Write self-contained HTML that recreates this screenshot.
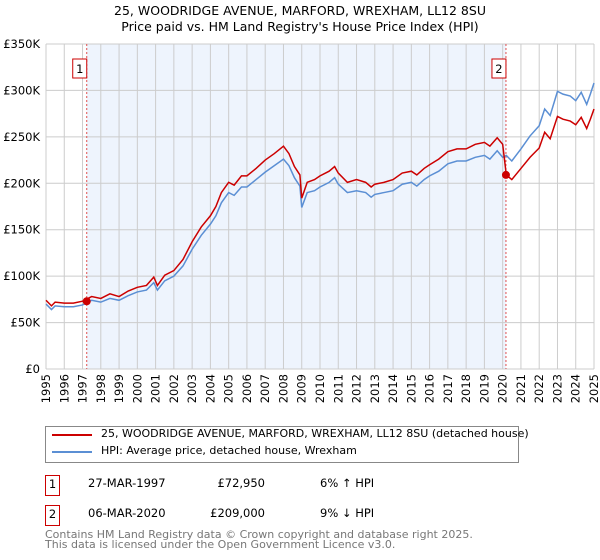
<!DOCTYPE html>
<html><head><meta charset="utf-8"><style>
body{margin:0;background:#fff;font-family:"DejaVu Sans","Liberation Sans",sans-serif;}
#wrap{position:relative;width:600px;height:560px;overflow:hidden}
.t{position:absolute;font-size:11.5px;color:#000;white-space:nowrap}
</style></head><body><div id="wrap">
<div class="t" style="left:0;width:600px;text-align:center;top:3px;font-size:12.5px;line-height:16px">25, WOODRIDGE AVENUE, MARFORD, WREXHAM, LL12 8SU<br>Price paid vs. HM Land Registry's House Price Index (HPI)</div>
<svg id="c" width="600" height="420" style="position:absolute;left:0;top:0"></svg>
<div style="position:absolute;left:45px;top:426px;width:472px;height:35px;border:1px solid #888;">
 <div><div style="position:absolute;left:6px;top:7px;width:40px;height:2px;background:#cc0000"></div><div class="t" style="left:55px;top:0px;font-size:11px">25, WOODRIDGE AVENUE, MARFORD, WREXHAM, LL12 8SU (detached house)</div></div>
 <div><div style="position:absolute;left:6px;top:24px;width:40px;height:2px;background:#5b8fd4"></div><div class="t" style="left:55px;top:17px;font-size:11px">HPI: Average price, detached house, Wrexham</div></div>
</div>
<div>
<div class="t" style="left:45px;top:475px;width:13px;height:19px;border:1px solid #cc0000;text-align:center;line-height:17px">1</div>
<div class="t" style="left:88px;top:476px">27-MAR-1997</div>
<div class="t" style="left:200px;top:476px;width:65px;text-align:right">£72,950</div>
<div class="t" style="left:320px;top:476px">6% ↑ HPI</div></div>
<div>
<div class="t" style="left:45px;top:505px;width:13px;height:19px;border:1px solid #cc0000;text-align:center;line-height:17px">2</div>
<div class="t" style="left:88px;top:506px">06-MAR-2020</div>
<div class="t" style="left:200px;top:506px;width:65px;text-align:right">£209,000</div>
<div class="t" style="left:320px;top:506px">9% ↓ HPI</div></div>
<div class="t" style="left:45px;top:530px;color:#777;font-size:11px;line-height:10px">Contains HM Land Registry data © Crown copyright and database right 2025.<br>This data is licensed under the Open Government Licence v3.0.</div>
</div>
<script>
const years=[1995,1995.3,1995.5,1996,1996.5,1997,1997.5,1998,1998.5,1999,1999.5,2000,2000.5,2000.9,2001.1,2001.5,2002,2002.5,2003,2003.5,2004,2004.3,2004.6,2005,2005.3,2005.7,2006,2006.5,2007,2007.5,2008,2008.3,2008.6,2008.9,2009,2009.3,2009.7,2010,2010.5,2010.8,2011,2011.5,2012,2012.5,2012.8,2013,2013.5,2014,2014.5,2015,2015.3,2015.7,2016,2016.5,2017,2017.5,2018,2018.5,2019,2019.3,2019.7,2020,2020.2,2020.5,2021,2021.5,2022,2022.3,2022.6,2023,2023.3,2023.7,2024,2024.3,2024.6,2024.8,2025];
const hpi=[70,64,68,67,67,69,74,72,76,74,79,83,85,93,85,95,100,111,129,144,156,165,179,190,187,196,196,204,212,219,226,219,206,197,174,190,192,196,201,206,199,190,192,190,185,188,190,192,199,201,197,204,208,213,221,224,224,228,230,226,235,228,230,224,237,251,262,280,273,299,296,294,289,298,285,296,308];
const price=[74,68,72,71,71,73,78,76,81,78,84,88,90,99,90,101,106,118,137,153,165,175,190,201,198,208,208,216,225,232,240,232,218,209,184,201,204,208,213,218,211,201,204,201,196,199,201,204,211,213,209,216,220,226,234,237,237,242,244,240,249,242,209,204,216,228,238,255,248,272,269,267,263,271,259,269,280];
const yTicks=[0,50,100,150,200,250,300,350];
const yTickLabels=["£0","£50K","£100K","£150K","£200K","£250K","£300K","£350K"];
const xTicks=[1995,1996,1997,1998,1999,2000,2001,2002,2003,2004,2005,2006,2007,2008,2009,2010,2011,2012,2013,2014,2015,2016,2017,2018,2019,2020,2021,2022,2023,2024,2025];
const sales=[{n:"1",t:1997.23,v:72.95},{n:"2",t:2020.18,v:209}];
const L=46,R=594,T=44,B=369;
const X=t=>L+(t-1995)/30*(R-L);
const Y=v=>B-v/350*(B-T);
const FF='DejaVu Sans, Liberation Sans, sans-serif';
const svg=document.getElementById('c');const NS="http://www.w3.org/2000/svg";
function mk(tag,a,name){const e=document.createElementNS(NS,tag);for(const k in a)e.setAttribute(k,a[k]);


svg.appendChild(e);return e;}
mk('rect',{x:L,y:T,width:R-L,height:B-T,fill:'#fff'},'plot-area');
mk('rect',{x:X(sales[0].t),y:T,width:X(sales[1].t)-X(sales[0].t),height:B-T,fill:'#eef4fd'},'ownership-shading');
xTicks.forEach(t=>{mk('line',{x1:X(t),x2:X(t),y1:T,y2:B,stroke:'#ccc','stroke-width':1},'x-gridline');
const x=X(t)+4,y=374;
const tx=mk('text',{x:x,y:y,'text-anchor':'end','font-size':11.5,'font-family':FF,transform:'rotate(-90 '+x+' '+y+')'},'x-tick-label');tx.textContent=t;});
yTicks.forEach((v,i)=>{mk('line',{x1:L,x2:R,y1:Y(v),y2:Y(v),stroke:'#ccc','stroke-width':1},'y-gridline');
const tx=mk('text',{x:40,y:Y(v)+4,'text-anchor':'end','font-size':11.5,'font-family':FF},'y-tick-label');tx.textContent=yTickLabels[i];});
sales.forEach(s=>{mk('line',{x1:X(s.t),x2:X(s.t),y1:T,y2:B,stroke:'#e05050','stroke-width':1,'stroke-dasharray':'2,2'},'sale-marker-line');});
mk('polyline',{points:years.map((t,i)=>X(t)+','+Y(hpi[i])).join(' '),fill:'none',stroke:'#5b8fd4','stroke-width':1.5},'hpi-line');
mk('polyline',{points:years.map((t,i)=>X(t)+','+Y(price[i])).join(' '),fill:'none',stroke:'#cc0000','stroke-width':1.5},'price-line');
sales.forEach(s=>{mk('circle',{cx:X(s.t),cy:Y(s.v),r:4,fill:'#cc0000'},'sale-point');
mk('rect',{x:X(s.t)-14,y:59,width:14,height:19,fill:'#fff',stroke:'#cc0000'},'sale-label-box');
const tx=mk('text',{x:X(s.t)-7,y:73,'text-anchor':'middle','font-size':11.5,'font-family':FF},'sale-label');tx.textContent=s.n;});
</script></body></html>
